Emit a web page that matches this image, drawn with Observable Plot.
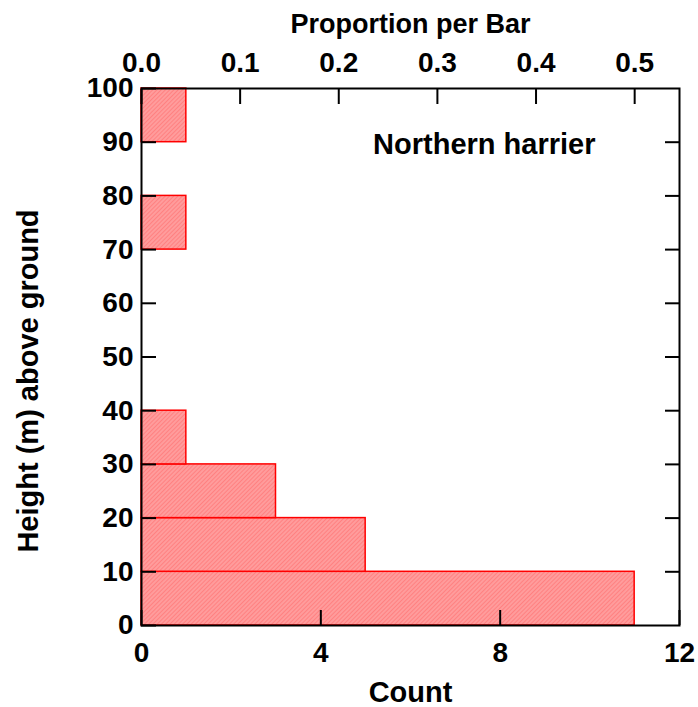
<!DOCTYPE html>
<html><head><meta charset="utf-8">
<script src="https://cdn.jsdelivr.net/npm/d3@7"></script>
<script src="https://cdn.jsdelivr.net/npm/@observablehq/plot@0.6"></script>
<style>body{margin:0;background:#fff}</style>
</head><body><div id="chart"></div>
<script>
const binStarts = [0, 10, 20, 30, 40, 50, 60, 70, 80, 90];
const binWidth = 10;
const counts = [11, 5, 3, 1, 0, 0, 0, 1, 0, 1];
const heightTicks = [0, 10, 20, 30, 40, 50, 60, 70, 80, 90, 100];
const countTicks = [0, 4, 8, 12];
const proportionTicks = [0, 0.1, 0.2, 0.3, 0.4, 0.5];
const speciesLabel = ["Northern harrier"];
const xTitle = ["Count"];
const topTitle = ["Proportion per Bar"];
const yTitle = ["Height (m) above ground"];

const total = d3.sum(counts);
const bins = binStarts.map((s, i) => ({y1: s, y2: s + binWidth, count: counts[i]}));

const svg = Plot.plot({
  width: 698, height: 707,
  marginLeft: 141, marginRight: 19, marginTop: 88, marginBottom: 82,
  x: {domain: [0, 12]},
  y: {domain: [0, 100]},
  style: {fontFamily: "'Liberation Sans', Arial, sans-serif", fontWeight: "bold", fontSize: "28px", color: "black", background: "white"},
  marks: [
    Plot.rectX(bins, {y1: "y1", y2: "y2", x1: 0, x2: "count", fill: "url(#hatch)", stroke: "red", strokeWidth: 1.5}),
    Plot.frame({stroke: "black", strokeWidth: 2}),
    Plot.axisY(heightTicks, {anchor: "left", tickSize: -15, tickPadding: 23, strokeWidth: 2, label: null}),
    Plot.axisY(heightTicks.slice(1, -1), {anchor: "right", tickSize: -15, strokeWidth: 2, tickFormat: () => "", label: null}),
    Plot.axisX(countTicks, {anchor: "bottom", tickSize: -15, tickPadding: 32, strokeWidth: 2, label: null}),
    Plot.axisX(proportionTicks.map(p => p * total), {anchor: "top", tickSize: -15, tickPadding: 32, strokeWidth: 2,
      tickFormat: d => (d / total).toFixed(1), label: null}),
    Plot.text(topTitle, {frameAnchor: "top", text: d => d, dy: -56, lineAnchor: "bottom", fontSize: 27, fontWeight: "bold"}),
    Plot.text(xTitle, {frameAnchor: "bottom", text: d => d, dy: 76, lineAnchor: "bottom", fontSize: 29, fontWeight: "bold"}),
    Plot.text(yTitle, {frameAnchor: "left", text: d => d, dx: -113, dy: 24, rotate: -90, textAnchor: "middle", lineAnchor: "middle", fontSize: 29, fontWeight: "bold"}),
    Plot.text(speciesLabel, {frameAnchor: "top-right", text: d => d, dx: -84, dy: 56, fontSize: 29, fontWeight: "bold", textAnchor: "end", lineAnchor: "middle"})
  ]
});

const defs = d3.select(svg).insert("defs", ":first-child");
const pat = defs.append("pattern").attr("id", "hatch").attr("patternUnits", "userSpaceOnUse")
  .attr("width", 3).attr("height", 3).attr("patternTransform", "rotate(45)");
pat.append("rect").attr("width", 3).attr("height", 3).attr("fill", "#ff9c9c");
pat.append("line").attr("x1", 0).attr("y1", 0).attr("x2", 0).attr("y2", 3).attr("stroke", "#ff6e6e").attr("stroke-width", 1.2);

document.getElementById("chart").appendChild(svg);
</script>
</body></html>
